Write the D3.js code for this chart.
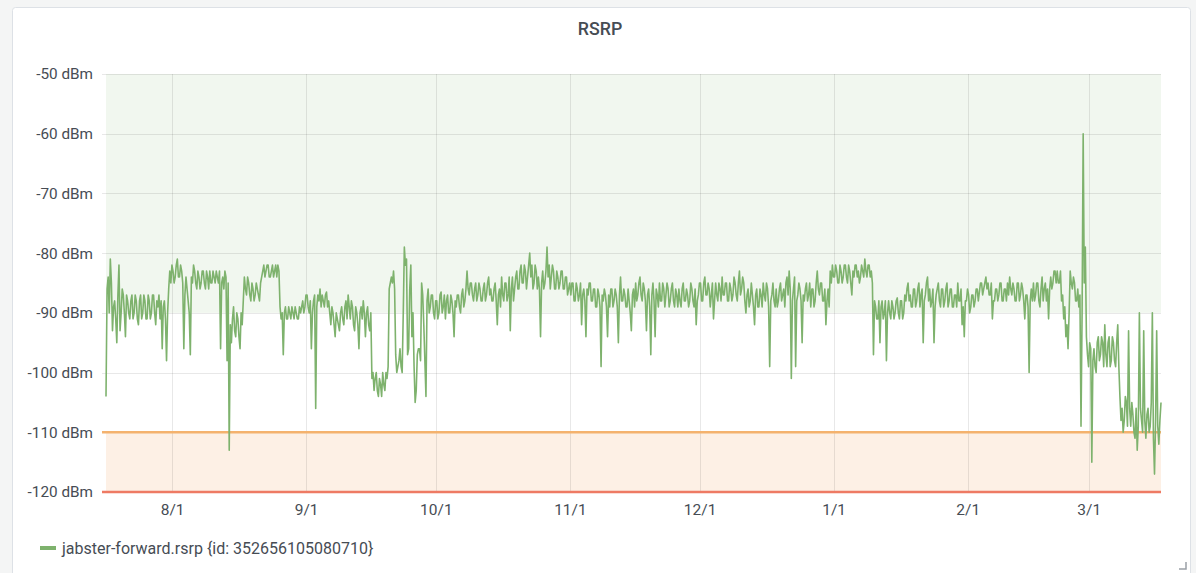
<!DOCTYPE html>
<html><head><meta charset="utf-8">
<script src="https://cdn.jsdelivr.net/npm/d3@7"></script>
<style>
html,body{margin:0;padding:0;background:#f4f5f5;}
svg{display:block;font-family:Roboto,"Noto Sans",sans-serif;}
</style></head><body>
<svg id="chart" width="1196" height="573"></svg>
<script>
const chartTitle = "RSRP";
const seriesName = "jabster-forward.rsrp {id: 352656105080710}";
const startTime = "2022-07-16T17:00:00";
const stepHours = 12;
// readings at each 12-hour step
const rsrp = [
-104,-84,-81,-93,-88,-95,-82,-90,-87,-94,
-88,-91,-87,-90,-88,-92,-87,-90,-88,-91,
-88,-90,-87,-92,-89,-91,-96,-88,-98,-86,
-85,-83,-84,-81,-84,-83,-96,-84,-88,-97,
-85,-83,-86,-84,-85,-83,-86,-84,-83,-85,
-84,-83,-85,-96,-84,-83,-98,-113,-95,-89,
-94,-91,-96,-92,-84,-87,-85,-88,-86,-87,
-86,-88,-84,-82,-83,-82,-84,-82,-83,-84,
-83,-91,-97,-89,-91,-90,-89,-91,-90,-91,
-90,-88,-89,-87,-90,-96,-88,-106,-87,-86,
-87,-89,-86.5,-88,-92,-90,-94,-91,-93,-89,
-92,-88,-87,-91,-89,-93,-90,-96,-89,-88,
-94,-89,-93,-101,-103,-100,-104,-102,-100,-103,
-101,-86,-84,-83,-97,-99,-96,-100,-79,-81,
-96,-82,-90,-105,-97,-96,-85,-92,-104,-86,
-89,-87,-91,-88,-90,-86.5,-89,-91,-87,-90,
-88,-94,-89,-87,-90,-86,-88,-83,-87,-85,
-88,-85,-87,-86,-88,-85,-87,-84,-86,-88,
-85,-92,-86,-84,-88,-85,-87,-93,-84,-86,
-83,-86,-82,-85,-83,-84,-80,-82,-85,-83,
-84,-94,-83,-85,-79,-82,-84,-83,-86,-84,
-85,-83,-86,-84,-86,-87,-85,-88,-86,-87,
-92,-86,-94,-87,-85,-88,-86,-89,-87,-99,
-88,-87,-94,-89,-86,-88,-87,-95,-84,-88,
-87,-89,-88,-93,-86,-85,-87,-84,-88,-86,
-93,-86,-97,-85,-94,-87,-85,-88,-86,-87,
-86,-88,-85,-89,-87,-86,-89,-85,-88,-87,
-88,-86,-89,-92,-87,-85,-88,-84,-87,-86,
-87,-91,-85,-88,-86,-84,-87,-85,-88,-86,
-87,-85,-88,-83,-86,-85,-90,-86,-88,-87,
-92,-86,-89,-87,-85,-88,-86,-99,-87,-88,
-86,-88,-85,-87,-89,-84,-83,-101,-86,-99,
-87,-86,-95,-88,-85,-87,-89,-86,-88,-83,
-87,-85,-88,-92,-86,-83,-82,-84,-83,-85,
-83,-84,-82,-85,-83,-87,-84,-82,-83,-84,
-83,-81,-84,-82,-83,-97,-89,-91,-95,-88,
-90,-98,-88,-91,-89,-90,-87.5,-91,-88,-90,
-88,-85,-87,-89,-86,-88,-85,-87,-95,-87,
-84,-86,-88,-95,-87,-85,-89,-86,-88,-85,
-88,-86,-89,-87,-85,-88,-92,-94,-88,-87,
-89,-87,-88,-86,-86.5,-85,-86,-84,-85,-87,
-91,-88,-86,-87,-85,-88,-86,-85,-84,-87,
-86,-88,-85,-87,-86,-91,-87,-100,-86,-85,
-87,-85,-89,-84,-86,-88,-91,-84,-85,-83,
-83,-85,-88,-91,-94,-96,-83,-86,-85,-88,
-89,-109,-60,-79,-97,-95,-115,-96,-100,-94,
-97,-95,-92,-99,-94,-98,-95,-99,-92,-104,
-106,-108,-105,-93,-109,-107,-111,-113,-90,-108,
-93,-111,-106,-109,-90,-117,-93,-112,-105
];
// readings taken 6 hours after each step above
const rsrpOffset = [
-86,-90,-85,-89,-91,-87,-93,-86,-90,-87,
-90,-88,-91,-87,-91,-88,-91,-87,-91,-87,
-91,-87,-90,-88,-87,-88,-89,-91,-90,-83,
-82,-85,-82,-84,-82,-85,-87,-86,-90,-84,
-82,-85,-83,-86,-83,-85,-83,-86,-85,-83,
-85,-84,-83,-85,-86,-84,-85,-92,-91,-93,
-90,-94,-90,-88,-86,-84,-87,-85,-88,-85,
-87,-85,-83,-84,-82,-84,-83,-84,-82,-82,
-89,-90,-90,-91,-89,-91,-90,-89,-91,-89,
-89,-90,-87,-89,-88,-90,-87,-89,-88,-89,
-88,-87,-89,-90,-89,-92,-90,-92,-90,-91,
-89,-91,-89,-88,-92,-89,-92,-90,-91,-90,
-90,-92,-90,-100,-101,-103,-101,-104,-102,-100,
-99,-85,-85,-86,-100,-98,-99,-90,-82,-97,
-86,-94,-99,-103,-96,-98,-87,-98,-88,-90,
-87,-90,-88,-91,-87,-90,-87,-88,-90,-87,
-90,-88,-87,-89,-87,-89,-86,-86,-85,-87,
-86,-88,-85,-88,-86,-88,-85,-87,-88,-86,
-88,-87,-89,-87,-85,-88,-84,-86,-88,-84,
-86,-83,-85,-82,-86,-82,-84,-86,-82,-86,
-86,-85,-86,-83,-84,-86,-82,-86,-83,-86,
-83,-86,-84,-87,-85,-85,-88,-85,-88,-85,
-87,-88,-86,-85,-88,-86,-89,-86,-89,-87,
-86,-89,-87,-86,-89,-86,-89,-87,-88,-86,
-89,-86,-90,-87,-89,-88,-85,-87,-85,-88,
-87,-89,-87,-88,-86,-89,-88,-85,-89,-85,
-89,-86,-88,-86,-89,-88,-86,-88,-86,-89,
-85,-88,-86,-88,-85,-88,-85,-87,-85,-89,
-85,-88,-87,-85,-88,-87,-85,-88,-85,-88,
-84,-87,-85,-87,-84,-88,-87,-89,-85,-89,
-87,-89,-86,-89,-87,-85,-89,-88,-85,-89,
-89,-86,-88,-86,-85,-87,-86,-88,-84,-88,
-85,-88,-87,-86,-88,-85,-86,-89,-85,-86,
-85,-88,-86,-88,-89,-85,-84,-82,-85,-82,
-85,-82,-84,-82,-85,-83,-82,-84,-85,-82,
-84,-83,-82,-84,-85,-88,-91,-88,-89,-91,
-88,-90,-90,-88,-91,-88,-90,-88,-91,-87,
-86,-88,-89,-86,-89,-86,-89,-86,-88,-85,
-88,-89,-86,-89,-86,-88,-86,-89,-86,-89,
-86,-89,-87,-89,-88,-86,-89,-88,-86,-90,
-87,-89,-86,-88,-85,-87,-85,-86,-87,-85,
-88,-86,-88,-85,-88,-86,-88,-87,-86,-85,
-88,-85,-88,-85,-88,-87,-89,-88,-88,-88,
-85,-88,-86,-88,-85,-86,-86,-86,-83,-85,
-85,-83,-87,-89,-92,-90,-85,-84,-88,-86,
-87,-90,-85,-94,-99,-96,-98,-99,-95,-98,
-94,-99,-97,-95,-99,-94,-98,-95,-99,-108,
-110,-104,-109,-106,-105,-110,-106,-109,-106,-110,
-108,-107,-110,-105,-111,-108,-109,-108
];
const yTickValues = [-50,-60,-70,-80,-90,-100,-110,-120];
const yUnit = "dBm";
const xTickDates = ["2022-08-01","2022-09-01","2022-10-01","2022-11-01","2022-12-01","2023-01-01","2023-02-01","2023-03-01"];
const xTickLabels = ["8/1","9/1","10/1","11/1","12/1","1/1","2/1","3/1"];
const okAbove = -90;
const warnLevel = -110;
const critLevel = -120;
const yDomain = [-120,-50];

const svg = d3.select("#chart");
const M = {left:106, right:1161, top:74, bottom:492};
const t0 = new Date(startTime);
const H = 3600e3;
const data = [];
rsrp.forEach((v,i)=>{
  data.push({t:new Date(t0.getTime()+i*stepHours*H), v});
  if (i < rsrpOffset.length) data.push({t:new Date(t0.getTime()+(i*stepHours+stepHours/2)*H), v:rsrpOffset[i]});
});
const x = d3.scaleTime().domain(d3.extent(data,d=>d.t)).range([M.left,M.right]);
const y = d3.scaleLinear().domain(yDomain).range([M.bottom,M.top]);
const textCol = "#464c54";

// panel
svg.append("rect").attr("x",12.5).attr("y",7.5).attr("width",1178).attr("height",580)
  .attr("rx",3).attr("fill","#fff").attr("stroke","#dde1e6");

// threshold fills
svg.append("rect").attr("x",M.left).attr("width",M.right-M.left)
  .attr("y",y(yDomain[1])).attr("height",y(okAbove)-y(yDomain[1])).attr("fill","rgba(126,178,109,0.11)");
svg.append("rect").attr("x",M.left).attr("width",M.right-M.left)
  .attr("y",y(warnLevel)).attr("height",y(critLevel)-y(warnLevel)).attr("fill","rgba(237,129,40,0.12)");

// grid
const grid = svg.append("g").attr("stroke","#000").attr("stroke-opacity",0.09);
grid.selectAll("line.h").data(yTickValues).join("line")
  .attr("x1",M.left-4).attr("x2",M.right).attr("y1",d=>Math.round(y(d))+0.5).attr("y2",d=>Math.round(y(d))+0.5);
const xTicks = xTickDates.map(s=>new Date(s+"T00:00:00"));
grid.selectAll("line.v").data(xTicks).join("line")
  .attr("y1",M.top).attr("y2",M.bottom).attr("x1",d=>Math.round(x(d))+0.5).attr("x2",d=>Math.round(x(d))+0.5);

// threshold lines
svg.append("line").attr("x1",M.left-4).attr("x2",M.right).attr("y1",y(warnLevel)).attr("y2",y(warnLevel))
  .attr("stroke","#f4b26e").attr("stroke-width",2.5);
svg.append("line").attr("x1",M.left-4).attr("x2",M.right).attr("y1",y(critLevel)).attr("y2",y(critLevel))
  .attr("stroke","#ee7a63").attr("stroke-width",2.5);

// axes
const yAxis = d3.axisLeft(y).tickValues(yTickValues).tickSize(0).tickPadding(13)
  .tickFormat(d=>d+" "+yUnit);
const gy = svg.append("g").attr("transform",`translate(${M.left},0)`).call(yAxis);
gy.select(".domain").remove();
gy.selectAll("text").attr("fill",textCol).attr("font-size",15.3).attr("font-family","Roboto,sans-serif");

const xAxis = d3.axisBottom(x).tickValues(xTicks).tickSize(0).tickPadding(12)
  .tickFormat((d,i)=>xTickLabels[i]);
const gx = svg.append("g").attr("transform",`translate(0,${M.bottom})`).call(xAxis);
gx.select(".domain").remove();
gx.selectAll("text").attr("fill",textCol).attr("font-size",15.5).attr("font-family","Roboto,sans-serif");

// series line
const line = d3.line().x(d=>x(d.t)).y(d=>y(d.v));
svg.append("path").datum(data).attr("d",line).attr("fill","none")
  .attr("stroke","#7eb26d").attr("stroke-width",1.6).attr("stroke-linejoin","round");

// title
svg.append("text").attr("x",600).attr("y",28).attr("text-anchor","middle").attr("dominant-baseline","central")
  .attr("font-size",17.8).attr("font-weight",500).attr("fill",textCol).text(chartTitle);

// legend
svg.append("line").attr("x1",40).attr("x2",56).attr("y1",548).attr("y2",548)
  .attr("stroke","#7eb26d").attr("stroke-width",4);
svg.append("text").attr("x",62).attr("y",548).attr("dominant-baseline","central")
  .attr("font-size",16).attr("fill",textCol).text(seriesName);

// resize corner
svg.append("path").attr("d","M1186,562 L1186,569 L1179,569").attr("fill","none")
  .attr("stroke","#9aa0a6").attr("stroke-width",1.5);
</script>
</body></html>
